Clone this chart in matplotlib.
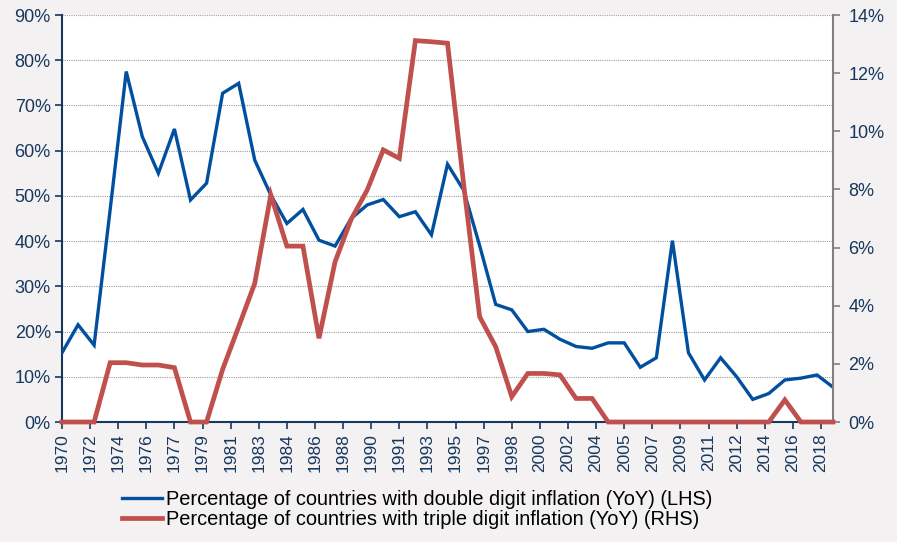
import matplotlib.pyplot as plt
from matplotlib.ticker import FixedLocator

# Data
years = list(range(1970, 2019))

double_digit = [15.3, 21.5, 17.0, 47.0, 77.5, 63.1, 55.0, 64.8, 49.1, 52.8,
                72.7, 74.9, 57.9, 50.2, 43.9, 47.0, 40.2, 38.9, 45.0, 48.0,
                49.2, 45.4, 46.5, 41.4, 57.0, 51.3, 39.0, 26.0, 24.8, 20.0,
                20.5, 18.3, 16.7, 16.3, 17.5, 17.5, 12.1, 14.2, 40.1, 15.3,
                9.3, 14.2, 10.0, 5.0, 6.3, 9.3, 9.7, 10.4, 7.7]

triple_digit = [0.0, 0.0, 0.0, 2.04, 2.04, 1.96, 1.96, 1.87, 0.0, 0.0,
                1.81, 3.28, 4.77, 7.81, 6.05, 6.05, 2.88, 5.51, 6.97, 7.98,
                9.36, 9.07, 13.12, 13.08, 13.03, 8.2, 3.62, 2.59, 0.87, 1.67,
                1.67, 1.62, 0.81, 0.81, 0.0, 0.0, 0.0, 0.0, 0.0, 0.0,
                0.0, 0.0, 0.0, 0.0, 0.0, 0.76, 0.0, 0.0, 0.0]

x_tick_labels = ['1970', '1972', '1974', '1976', '1977', '1979', '1981',
                 '1983', '1984', '1986', '1988', '1990', '1991', '1993',
                 '1995', '1997', '1998', '2000', '2002', '2004', '2005',
                 '2007', '2009', '2011', '2012', '2014', '2016', '2018']

left_ticks = [0, 10, 20, 30, 40, 50, 60, 70, 80, 90]
right_ticks = [0, 2, 4, 6, 8, 10, 12, 14]

labels = ['Percentage of countries with double digit inflation (YoY) (LHS)',
          'Percentage of countries with triple digit inflation (YoY) (RHS)']

# Style
BLUE = '#0150A0'
RED = '#C0504D'
NAVY = '#17375E'
GREY = '#808080'
BG = '#F3F1F1'

plt.rcParams['font.family'] = ['Liberation Sans', 'DejaVu Sans']

fig = plt.figure(figsize=(8.97, 5.42), dpi=100, facecolor=BG)
ax = fig.add_axes([0.0691, 0.2214, 0.8596, 0.7509])
ax.set_facecolor('white')
ax2 = ax.twinx()

l1, = ax.plot(years, double_digit, color=BLUE, linewidth=2.4,
              solid_joinstyle='miter', zorder=3)
l2, = ax2.plot(years, triple_digit, color=RED, linewidth=3.4,
               solid_joinstyle='miter', clip_on=False, zorder=3)

ax.set_xlim(1970, 2018)
ax.set_ylim(0, 90)
ax2.set_ylim(0, 14)

tick_pos = [1970 + 1.75 * k for k in range(len(x_tick_labels))]
ax.xaxis.set_major_locator(FixedLocator(tick_pos))
ax.set_xticklabels(x_tick_labels, rotation=90)

ax.set_yticks(left_ticks)
ax.set_yticklabels([f'{v}%' for v in left_ticks])
ax2.set_yticks(right_ticks)
ax2.set_yticklabels([f'{v}%' for v in right_ticks])

ax.grid(axis='y', color='#A0A0A0', linestyle=(0, (1, 1)), linewidth=0.8)
ax.set_axisbelow(True)

for a in (ax, ax2):
    a.spines['top'].set_visible(False)
ax.spines['right'].set_visible(False)
ax2.spines['left'].set_visible(False)
ax2.spines['bottom'].set_visible(False)
ax.spines['left'].set_color(NAVY)
ax.spines['bottom'].set_color(NAVY)
ax.spines['left'].set_linewidth(1.5)
ax.spines['bottom'].set_linewidth(1.5)
ax2.spines['right'].set_color(GREY)
ax2.spines['right'].set_linewidth(1.5)

ax.tick_params(axis='both', colors=NAVY, labelsize=13, length=5, width=1.2,
               direction='out', pad=3)
ax.tick_params(axis='x', labelsize=12.5)
ax2.tick_params(axis='y', colors=GREY, labelcolor=NAVY, labelsize=13,
                length=5, width=1.2, direction='out', pad=6)

# Legend below the plot, as two stacked rows
fig.legend([l1, l2], labels, loc='upper left', bbox_to_anchor=(0.136, 0.096),
           bbox_transform=fig.transFigure, frameon=False, fontsize=14.4,
           handlelength=2.0, handletextpad=0.2, labelspacing=0.05,
           borderaxespad=0, borderpad=0)

fig.savefig('out.png', dpi=100, facecolor=BG)
